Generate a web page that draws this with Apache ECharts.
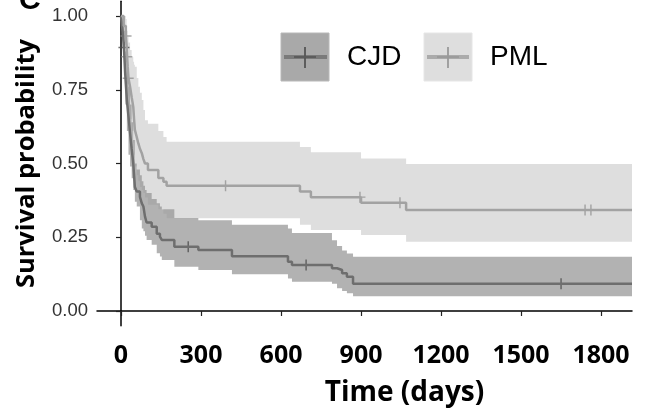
<!DOCTYPE html>
<html>
<head>
<meta charset="utf-8">
<script src="https://cdn.jsdelivr.net/npm/echarts@6/dist/echarts.min.js"></script>
<style>
html,body{margin:0;padding:0;background:#fff;}
#chart{width:648px;height:419px;}
</style>
</head>
<body>
<div id="chart"></div>
<script>
// ---- data ----
const groups = ['CJD', 'PML'];

const cjdTime  = [0, 6, 11, 16, 22, 28, 34, 40, 46, 52, 59, 71, 78, 84, 90, 96, 115, 134, 146, 153, 200, 290, 416, 626, 641, 791, 810, 829, 847, 870, 1916];
const cjdSurv  = [1, 0.95, 0.893, 0.80, 0.715, 0.66, 0.603, 0.55, 0.50, 0.42, 0.405, 0.387, 0.365, 0.354, 0.32, 0.30, 0.286, 0.262, 0.252, 0.241, 0.218, 0.207, 0.186, 0.167, 0.156, 0.145, 0.139, 0.128, 0.116, 0.092, 0.092];
const cjdUpper = [1, 0.99, 0.95, 0.88, 0.81, 0.76, 0.70, 0.64, 0.58, 0.50, 0.48, 0.46, 0.44, 0.425, 0.41, 0.40, 0.38, 0.365, 0.354, 0.345, 0.315, 0.308, 0.292, 0.28, 0.264, 0.24, 0.22, 0.205, 0.195, 0.184, 0.184];
const cjdLower = [1, 0.89, 0.80, 0.70, 0.61, 0.53, 0.49, 0.45, 0.41, 0.37, 0.354, 0.308, 0.28, 0.27, 0.255, 0.241, 0.225, 0.196, 0.185, 0.173, 0.15, 0.139, 0.125, 0.11, 0.099, 0.092, 0.077, 0.068, 0.06, 0.05, 0.05];

const pmlTime  = [0, 10, 18, 21, 23, 25, 28, 34, 40, 46, 49, 52, 59, 65, 71, 78, 84, 90, 101, 140, 159, 171, 671, 712, 900, 1069, 1916];
const pmlSurv  = [1, 0.966, 0.932, 0.90, 0.862, 0.83, 0.789, 0.76, 0.725, 0.692, 0.65, 0.614, 0.59, 0.568, 0.55, 0.535, 0.515, 0.50, 0.478, 0.451, 0.438, 0.425, 0.405, 0.386, 0.367, 0.342, 0.342];
const pmlUpper = [1, 1, 0.99, 0.97, 0.95, 0.93, 0.91, 0.885, 0.86, 0.845, 0.835, 0.828, 0.79, 0.76, 0.74, 0.715, 0.681, 0.647, 0.635, 0.61, 0.59, 0.574, 0.556, 0.538, 0.517, 0.498, 0.498];
const pmlLower = [1, 0.90, 0.85, 0.81, 0.76, 0.73, 0.68, 0.65, 0.61, 0.57, 0.53, 0.49, 0.46, 0.44, 0.42, 0.41, 0.40, 0.385, 0.36, 0.345, 0.33, 0.314, 0.292, 0.275, 0.258, 0.235, 0.235];

const cjdCensorTime = [11, 252, 694, 1650];
const cjdCensorSurv = [0.893, 0.218, 0.156, 0.092];
const pmlCensorTime = [19, 22, 27, 392, 896, 1046, 1740, 1762];
const pmlCensorSurv = [0.932, 0.862, 0.789, 0.425, 0.386, 0.367, 0.342, 0.342];

const xTicks = [0, 300, 600, 900, 1200, 1500, 1800];
const yTicks = [0, 0.25, 0.5, 0.75, 1];
const yTickLabels = ['0.00', '0.25', '0.50', '0.75', '1.00'];

// ---- helpers ----
const zip = (a, b) => a.map((v, i) => [v, b[i]]);
const plus = 'path://M8.7,0h2.6v8.7h8.7v2.6h-8.7v8.7h-2.6v-8.7h-8.7v-2.6h8.7z';

const colors = {
  CJD: {line: '#6e6e6e', band: 'rgba(0,0,0,0.30)', mark: '#4a4a4a', key: '#a9a9a9', keyLine: '#7a7a7a'},
  PML: {line: '#a2a2a2', band: 'rgba(145,145,145,0.30)', mark: '#939393', key: '#dedede', keyLine: '#ababab'}
};

// step-shaped confidence band drawn as one polygon through the axes' scales
function bandSeries(name, t, lo, up, color) {
  const data = t.map((v, i) => [v, lo[i], up[i]]);
  return {
    name: name + ' band', type: 'custom', silent: true, data: data,
    encode: {x: 0, y: [1, 2]},
    renderItem: function (params, api) {
      if (params.dataIndex !== 0) return null;
      const n = data.length;
      const top = [], bot = [];
      for (let i = 0; i < n; i++) {
        const tNext = i < n - 1 ? data[i + 1][0] : data[i][0];
        top.push(api.coord([data[i][0], data[i][2]]));
        top.push(api.coord([tNext, data[i][2]]));
        bot.push(api.coord([data[i][0], data[i][1]]));
        bot.push(api.coord([tNext, data[i][1]]));
      }
      const pts = top.concat(bot.reverse());
      return {type: 'polygon', shape: {points: pts}, style: {fill: color}};
    }
  };
}

const chart = echarts.init(document.getElementById('chart'), null, {renderer: 'canvas'});

const option = {
  animation: false,
  grid: {left: 97, right: 16, top: 1.25, bottom: 93.25, containLabel: false},
  xAxis: {
    type: 'value', min: -90, max: 1916,
    axisLine: {show: true, lineStyle: {color: '#000', width: 1.5}},
    axisTick: {show: true, length: 5, lineStyle: {color: '#222', width: 1.2}, customValues: xTicks},
    axisLabel: {customValues: xTicks, margin: 18, color: '#000', fontFamily: 'Open Sans', fontWeight: 'bold', fontSize: 25,
      formatter: v => String(v)},
    splitLine: {show: false},
    name: 'Time (days)', nameLocation: 'middle', nameGap: 53,
    nameTextStyle: {color: '#000', fontFamily: 'Open Sans', fontWeight: 'bold', fontSize: 28, padding: [0, 0, 0, 80]}
  },
  yAxis: {
    type: 'value', min: -0.05, max: 1.05,
    axisLine: {show: true, lineStyle: {color: '#000', width: 1.5}},
    axisTick: {show: true, length: 5, lineStyle: {color: '#222', width: 1.2}, customValues: yTicks},
    axisLabel: {customValues: yTicks, margin: 9, color: '#333', fontFamily: 'Liberation Sans', fontSize: 18.5,
      formatter: v => { const k = yTicks.indexOf(v); return k >= 0 ? yTickLabels[k] : ''; }},
    splitLine: {show: false},
    name: 'Survival probability', nameLocation: 'middle', nameGap: 57,
    nameTextStyle: {color: '#000', fontFamily: 'Open Sans', fontWeight: 'bold', fontSize: 25.5}
  },
  series: [
    bandSeries('CJD', cjdTime, cjdLower, cjdUpper, colors.CJD.band),
    bandSeries('PML', pmlTime, pmlLower, pmlUpper, colors.PML.band),
    {name: 'CJD', type: 'line', step: 'end', data: zip(cjdTime, cjdSurv), symbol: 'none',
     lineStyle: {color: colors.CJD.line, width: 2.5}},
    {name: 'PML', type: 'line', step: 'end', data: zip(pmlTime, pmlSurv), symbol: 'none',
     lineStyle: {color: colors.PML.line, width: 2.5}},
    {name: 'CJD censor', type: 'scatter', data: zip(cjdCensorTime, cjdCensorSurv), symbol: plus, symbolSize: 11,
     itemStyle: {color: colors.CJD.mark}},
    {name: 'PML censor', type: 'scatter', data: zip(pmlCensorTime, pmlCensorSurv), symbol: plus, symbolSize: 11,
     itemStyle: {color: colors.PML.mark}}
  ],
  graphic: [
    {type: 'text', left: 19, top: -14, style: {text: 'C', font: 'bold 30px "Liberation Sans"', fill: '#000'}},
    {type: 'rect', shape: {x: 281, y: 33, width: 48, height: 48}, style: {fill: colors.CJD.key, stroke: '#b8b8b8', lineWidth: 1}},
    {type: 'line', shape: {x1: 284, y1: 57, x2: 327, y2: 57}, style: {stroke: colors.CJD.keyLine, lineWidth: 4}},
    {type: 'line', shape: {x1: 305, y1: 47, x2: 305, y2: 68}, style: {stroke: '#555', lineWidth: 1.8}},
    {type: 'line', shape: {x1: 294, y1: 57, x2: 316, y2: 57}, style: {stroke: '#5a5a5a', lineWidth: 1.8}},
    {type: 'text', x: 347, y: 57, style: {text: groups[0], font: '28px "Liberation Sans"', fill: '#000', textVerticalAlign: 'middle'}},
    {type: 'rect', shape: {x: 424, y: 33, width: 48, height: 48}, style: {fill: colors.PML.key, stroke: '#e6e6e6', lineWidth: 1}},
    {type: 'line', shape: {x1: 427, y1: 57, x2: 469, y2: 57}, style: {stroke: colors.PML.keyLine, lineWidth: 4}},
    {type: 'line', shape: {x1: 448, y1: 47, x2: 448, y2: 68}, style: {stroke: '#9a9a9a', lineWidth: 1.8}},
    {type: 'line', shape: {x1: 437, y1: 57, x2: 459, y2: 57}, style: {stroke: '#9a9a9a', lineWidth: 1.8}},
    {type: 'text', x: 490, y: 57, style: {text: groups[1], font: '28px "Liberation Sans"', fill: '#000', textVerticalAlign: 'middle'}}
  ]
};
chart.setOption(option);
</script>
</body>
</html>
